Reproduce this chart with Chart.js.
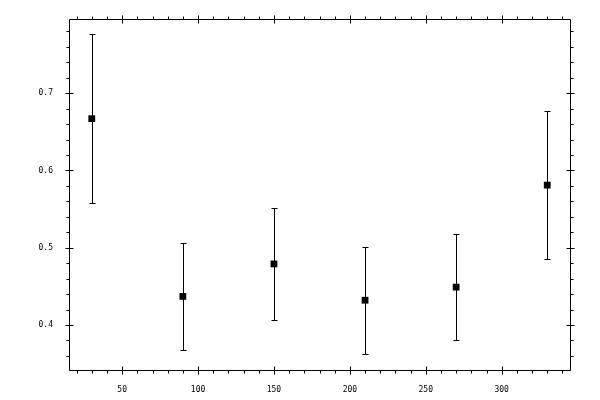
<!DOCTYPE html>
<html>
<head>
<meta charset="utf-8">
<script src="https://cdn.jsdelivr.net/npm/chart.js@4/dist/chart.umd.min.js"></script>
<style>
html,body{margin:0;padding:0;background:#fff;}
#wrap{width:600px;height:400px;}
</style>
</head>
<body>
<div id="wrap"><canvas id="c" width="600" height="400"></canvas></div>
<script>
const xValues = [30, 90, 150, 210, 270, 330];
const yValues = [0.667, 0.437, 0.479, 0.432, 0.449, 0.581];
const yUpper  = [0.776, 0.506, 0.551, 0.501, 0.518, 0.677];
const yLower  = [0.558, 0.368, 0.406, 0.363, 0.380, 0.486];
const xTicks = [50, 100, 150, 200, 250, 300];
const yTicks = [0.4, 0.5, 0.6, 0.7];
const xRange = [15, 345];
const yRange = [0.3417, 0.796];
const xMinorStep = 10;
const yMinorStep = 0.02;

const frameTicks = {
  id: 'frameTicks',
  beforeDatasetsDraw(chart) {
    const ctx = chart.ctx;
    const xs = chart.scales.x, ys = chart.scales.y;
    ctx.save();
    ctx.strokeStyle = '#000';
    ctx.lineWidth = 1;
    ctx.beginPath();
    for (let i = 0; i < xValues.length; i++) {
      const px = Math.round(xs.getPixelForValue(xValues[i])) + 0.5;
      const pt = Math.round(ys.getPixelForValue(yUpper[i])) + 0.5;
      const pb = Math.round(ys.getPixelForValue(yLower[i])) + 0.5;
      ctx.moveTo(px, pt); ctx.lineTo(px, pb);
      ctx.moveTo(px - 3, pt); ctx.lineTo(px + 3, pt);
      ctx.moveTo(px - 3, pb); ctx.lineTo(px + 3, pb);
    }
    ctx.stroke();
    ctx.restore();
  },
  afterDraw(chart) {
    const ctx = chart.ctx;
    const a = chart.chartArea;
    const xs = chart.scales.x, ys = chart.scales.y;
    const L = a.left + 0.5, R = a.right + 0.5, T = a.top + 0.5, B = a.bottom + 0.5;
    ctx.save();
    ctx.strokeStyle = '#000';
    ctx.lineWidth = 1;
    ctx.beginPath();
    ctx.rect(L, T, R - L, B - T);
    // x ticks
    const kx0 = Math.ceil(xRange[0] / xMinorStep), kx1 = Math.floor(xRange[1] / xMinorStep);
    for (let k = kx0; k <= kx1; k++) {
      const v = k * xMinorStep;
      const px = Math.round(xs.getPixelForValue(v)) + 0.5;
      const major = xTicks.includes(v);
      if (major) {
        ctx.moveTo(px, B - 4); ctx.lineTo(px, B + 4);
        ctx.moveTo(px, T - 4); ctx.lineTo(px, T + 4);
      } else {
        ctx.moveTo(px, B); ctx.lineTo(px, B + 3);
        ctx.moveTo(px, T); ctx.lineTo(px, T - 3);
      }
    }
    const ky0 = Math.ceil(yRange[0] / yMinorStep - 1e-9), ky1 = Math.floor(yRange[1] / yMinorStep + 1e-9);
    for (let k = ky0; k <= ky1; k++) {
      const v = k * yMinorStep;
      const py = Math.round(ys.getPixelForValue(v)) + 0.5;
      const major = yTicks.some(t => Math.abs(t - v) < 1e-9);
      if (major) {
        ctx.moveTo(L - 4, py); ctx.lineTo(L + 4, py);
        ctx.moveTo(R - 4, py); ctx.lineTo(R + 4, py);
      } else {
        ctx.moveTo(L, py); ctx.lineTo(L - 3, py);
        ctx.moveTo(R, py); ctx.lineTo(R + 3, py);
      }
    }
    ctx.stroke();
    ctx.restore();
  }
};

new Chart(document.getElementById('c'), {
  type: 'scatter',
  data: {
    datasets: [{
      data: xValues.map((x, i) => ({ x: x, y: yValues[i] })),
      pointStyle: 'rect',
      radius: 4.8,
      hoverRadius: 4.8,
      backgroundColor: '#000',
      borderColor: '#000',
      borderWidth: 0
    }]
  },
  options: {
    responsive: false,
    animation: false,
    devicePixelRatio: 1,
    layout: { padding: { top: 19, right: 30, left: 0, bottom: 0 } },
    plugins: { legend: { display: false }, tooltip: { enabled: false } },
    scales: {
      x: {
        type: 'linear',
        min: xRange[0], max: xRange[1],
        grid: { display: false },
        border: { display: false },
        afterBuildTicks: s => { s.ticks = xTicks.map(v => ({ value: v })); },
        afterFit: s => { s.height = 30; },
        ticks: { color: '#000', padding: 7, maxRotation: 0, autoSkip: false,
          font: { family: 'DejaVu Sans Mono', size: 8 },
          callback: v => String(v) }
      },
      y: {
        type: 'linear',
        min: yRange[0], max: yRange[1],
        grid: { display: false },
        border: { display: false },
        afterBuildTicks: s => { s.ticks = yTicks.map(v => ({ value: v })); },
        afterFit: s => { s.width = 69; },
        ticks: { color: '#000', padding: 8, autoSkip: false,
          font: { family: 'DejaVu Sans Mono', size: 8 },
          callback: v => Number(v).toFixed(1) }
      }
    }
  },
  plugins: [frameTicks]
});
</script>
</body>
</html>
